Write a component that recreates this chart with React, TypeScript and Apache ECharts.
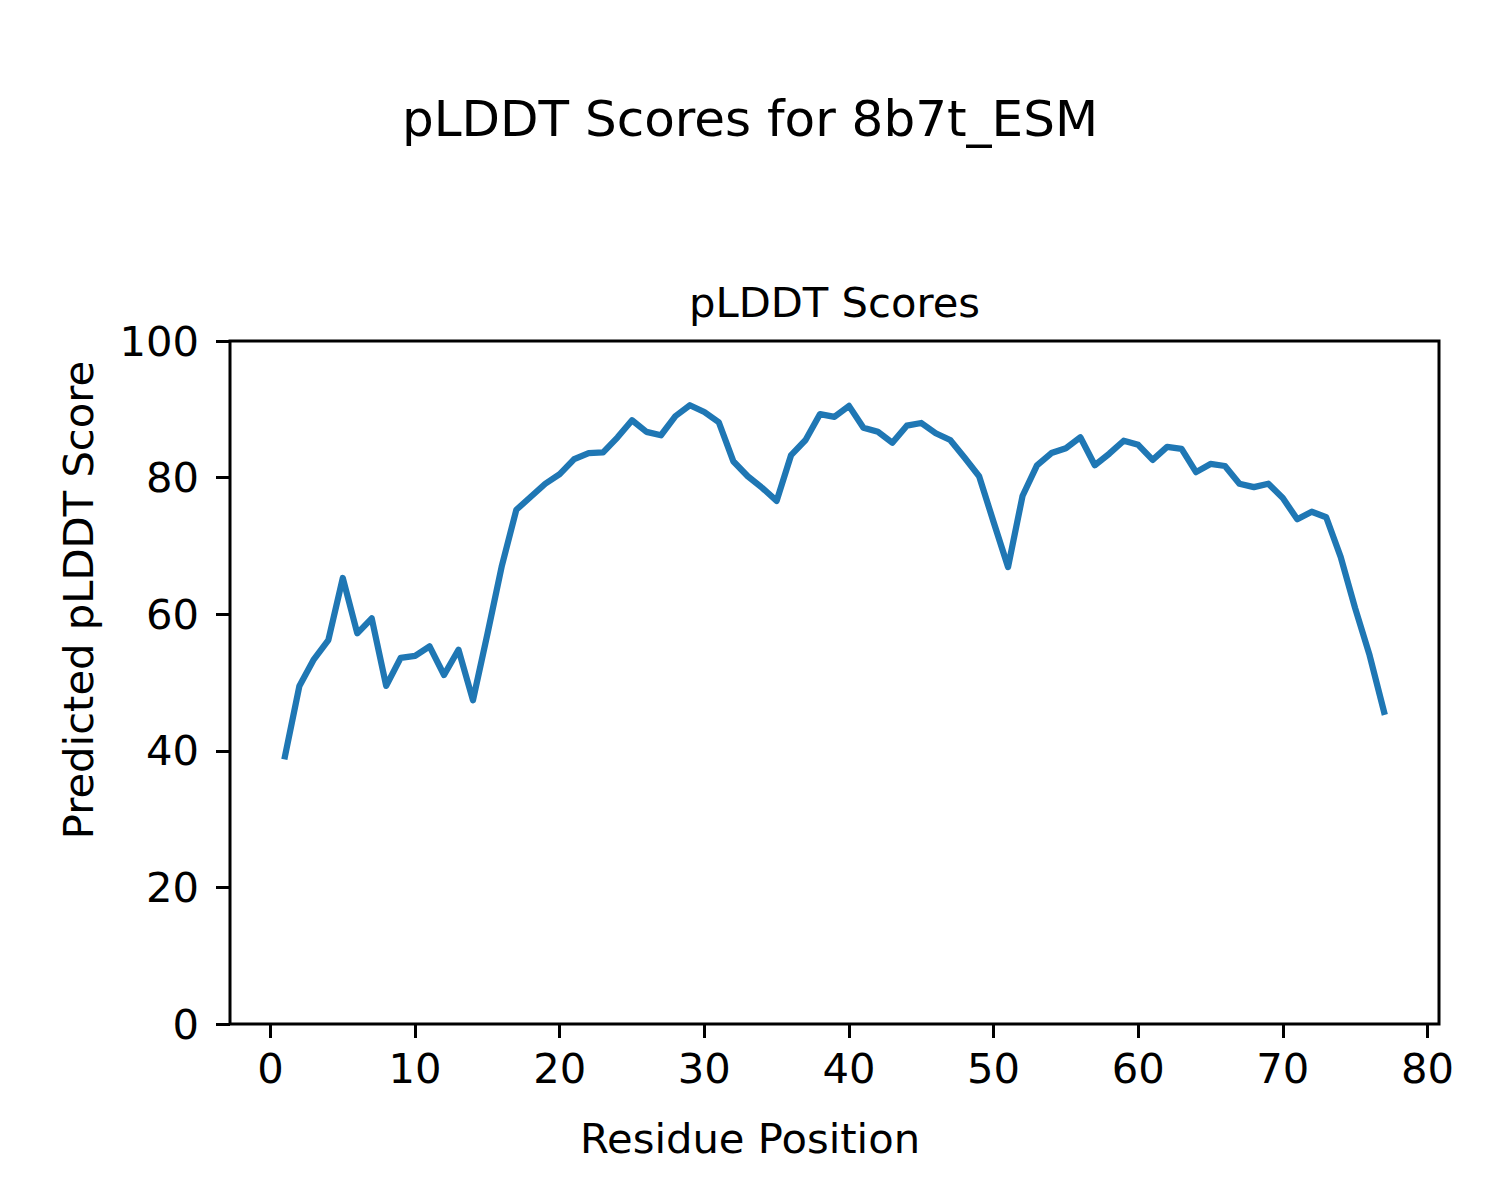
import React, { useEffect, useRef } from "react";
import * as echarts from "echarts";

const residues: number[] = Array.from({ length: 77 }, (_, i) => i + 1);
const scores: number[] = [
  39.2, 49.5, 53.4, 56.2, 65.3, 57.2, 59.4, 49.5, 53.6, 53.9,
  55.3, 51.1, 54.8, 47.4, 57.1, 67.1, 75.3, 77.2, 79.1, 80.5,
  82.7, 83.6, 83.7, 85.9, 88.4, 86.7, 86.2, 89.0, 90.6, 89.6,
  88.1, 82.4, 80.2, 78.5, 76.6, 83.3, 85.5, 89.3, 88.9, 90.5,
  87.3, 86.7, 85.1, 87.6, 88.0, 86.5, 85.5, 82.9, 80.2, 73.5,
  66.9, 77.3, 81.8, 83.6, 84.3, 85.9, 81.8, 83.5, 85.4, 84.8,
  82.6, 84.5, 84.2, 80.8, 82.0, 81.7, 79.1, 78.6, 79.1, 77.0,
  73.9, 75.0, 74.2, 68.4, 60.9, 54.0, 45.7,
];
const xTicks: number[] = [0, 10, 20, 30, 40, 50, 60, 70, 80];

const FONT = "DejaVu Sans";

export default function App() {
  const ref = useRef<HTMLDivElement>(null);
  useEffect(() => {
    if (!ref.current) return;
    const chart = echarts.init(ref.current, null, { renderer: "svg" });
    chart.setOption({
      animation: false,
      backgroundColor: "#ffffff",
      grid: {
        left: 230,
        top: 341,
        width: 1209,
        height: 683,
        show: true,
        borderColor: "#000",
        borderWidth: 3,
        containLabel: false,
      },
      xAxis: {
        type: "value",
        min: -2.8,
        max: 80.8,
        splitLine: { show: false },
        axisLine: { show: false, onZero: false },
        axisTick: {
          show: true,
          length: 14,
          lineStyle: { color: "#000", width: 3 },
          customValues: xTicks,
        },
        axisLabel: {
          customValues: xTicks,
          color: "#000",
          fontFamily: FONT,
          fontSize: 41.7,
          margin: 23,
        },
      },
      yAxis: {
        type: "value",
        min: 0,
        max: 100,
        interval: 20,
        splitLine: { show: false },
        axisLine: { show: false, onZero: false },
        axisTick: {
          show: true,
          length: 14,
          lineStyle: { color: "#000", width: 3 },
        },
        axisLabel: {
          color: "#000",
          fontFamily: FONT,
          fontSize: 41.7,
          margin: 31,
        },
      },
      series: [
        {
          type: "line",
          data: residues.map((r, i) => [r, scores[i]]),
          showSymbol: false,
          symbol: "none",
          lineStyle: { color: "#1f77b4", width: 6.25, cap: "square", join: "round" },
          z: 1,
        },
      ],
      graphic: [
        {
          type: "text",
          x: 750,
          y: 119,
          style: {
            text: "pLDDT Scores for 8b7t_ESM",
            font: `50px "${FONT}"`,
            fill: "#000",
            textAlign: "center",
            textVerticalAlign: "middle",
          },
        },
        {
          type: "text",
          x: 834.5,
          y: 302,
          style: {
            text: "pLDDT Scores",
            font: `41.7px "${FONT}"`,
            fill: "#000",
            textAlign: "center",
            textVerticalAlign: "middle",
          },
        },
        {
          type: "text",
          x: 750,
          y: 1138,
          style: {
            text: "Residue Position",
            font: `41.7px "${FONT}"`,
            fill: "#000",
            textAlign: "center",
            textVerticalAlign: "middle",
          },
        },
        {
          type: "text",
          x: 78,
          y: 600,
          rotation: Math.PI / 2,
          style: {
            text: "Predicted pLDDT Score",
            font: `41.7px "${FONT}"`,
            fill: "#000",
            textAlign: "center",
            textVerticalAlign: "middle",
          },
        },
      ],
    });
    return () => chart.dispose();
  }, []);
  return (
    <div
      ref={ref}
      style={{ position: "absolute", left: 0, top: 0, width: 1500, height: 1200, background: "#fff" }}
    />
  );
}
